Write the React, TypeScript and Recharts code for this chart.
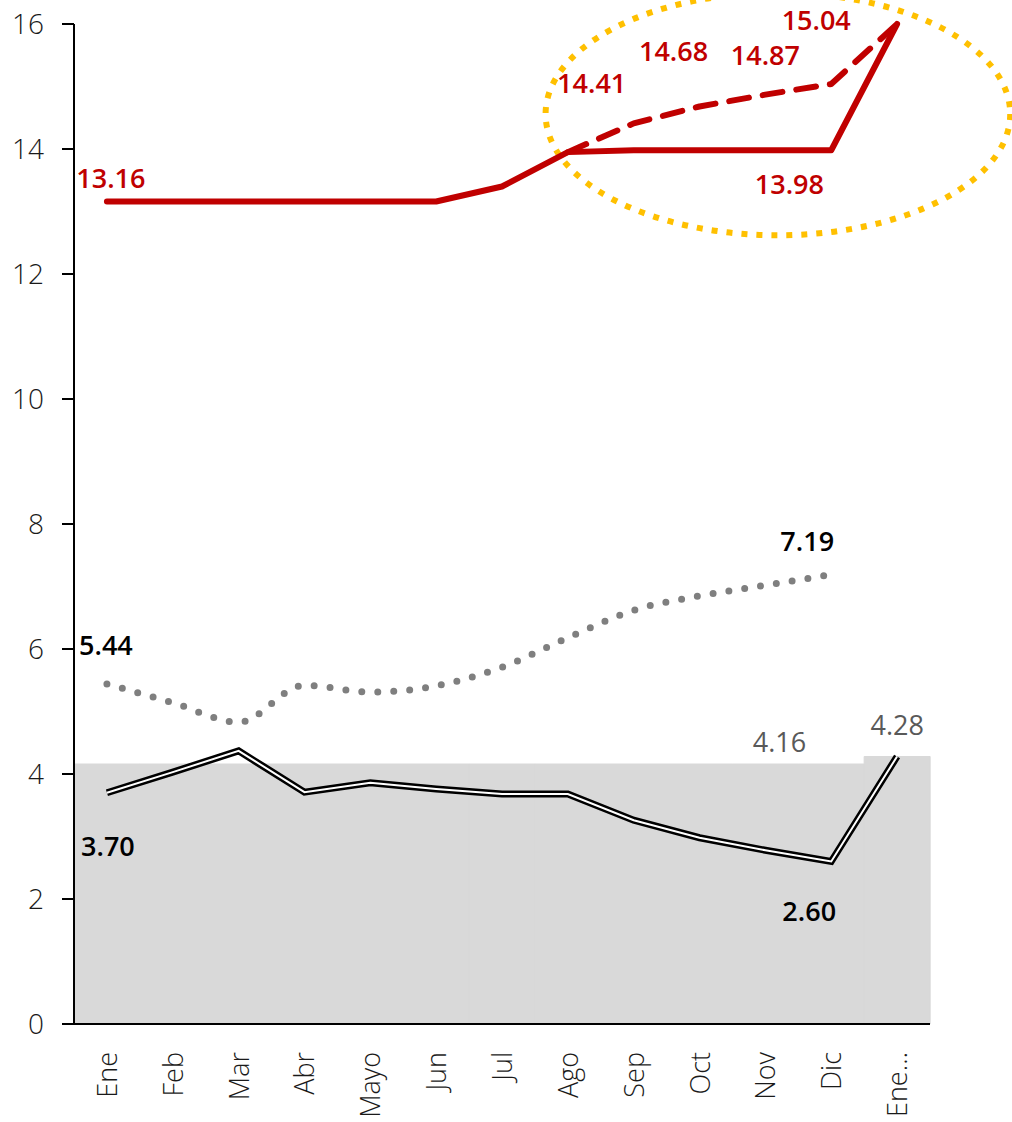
import React from "react";
import {
  ComposedChart,
  Bar,
  Line,
  XAxis,
  YAxis,
  ReferenceArea,
  LabelList,
} from "recharts";

const months = ["Ene", "Feb", "Mar", "Abr", "Mayo", "Jun", "Jul", "Ago", "Sep", "Oct", "Nov", "Dic", "Ene…"];
const band = [4.16, 4.16, 4.16, 4.16, 4.16, 4.16, 4.16, 4.16, 4.16, 4.16, 4.16, 4.16, 4.28];
const redSolid = [13.16, 13.16, 13.16, 13.16, 13.16, 13.16, 13.4, 13.95, 13.98, 13.98, 13.98, 13.98, 16.0];
const redDashed = [null, null, null, null, null, null, null, 13.95, 14.41, 14.68, 14.87, 15.04, 16.0];
const grayDotted = [5.44, 5.14, 4.83, 5.42, 5.31, 5.41, 5.71, 6.18, 6.62, 6.85, 7.02, 7.19, null];
const blackLine = [3.7, 4.03, 4.37, 3.71, 3.86, 3.76, 3.68, 3.68, 3.26, 2.98, 2.78, 2.6, 4.28];
const yTicks = [0, 2, 4, 6, 8, 10, 12, 14, 16];

const data = months.map((m, i) => ({
  m,
  band: band[i],
  redSolid: redSolid[i],
  redDashed: redDashed[i],
  grayDotted: grayDotted[i],
  blackLine: blackLine[i],
}));

const FONT = "'Open Sans', 'Noto Sans', sans-serif";
const RED = "#c00000";

// label offsets per index: [dx, dy]
function makeLabel(show: Record<number, [number, number]>, color: string, weight: number) {
  return (props: any) => {
    const { x, y, index, value, width } = props;
    const off = show[index];
    if (!off || value == null) return null;
    const cx = x + (width ? width / 2 : 0);
    return (
      <text
        x={cx + off[0]}
        y={y + off[1]}
        textAnchor="middle"
        fill={color}
        fontSize={27}
        fontWeight={weight}
        fontFamily={FONT}
      >
        {Number(value).toFixed(2)}
      </text>
    );
  };
}

const XTick = (props: any) => {
  const { x, y, payload } = props;
  return (
    <text
      transform={`translate(${x + 10},${y + 20}) rotate(-90)`}
      textAnchor="end"
      fill="#1a1a1a"
      fontSize={27}
      fontWeight={300}
      fontFamily={FONT}
    >
      {payload.value}
    </text>
  );
};

const Ellipse = (props: any) => {
  const { x, y, width, height } = props;
  return (
    <ellipse
      cx={x + width * 0.615}
      cy={y + height / 2}
      rx={width * 0.588}
      ry={height / 2}
      fill="none"
      stroke="#ffc000"
      strokeWidth={6}
      strokeDasharray="6 9"
    />
  );
};

export default function App() {
  return (
    <div style={{ width: 1012, height: 1122 }}>
      <style>{`body{margin:0}`}</style>
      <ComposedChart
        width={1012}
        height={1122}
        data={data}
        margin={{ top: 24, right: 82, bottom: 0, left: 0 }}
        barCategoryGap={0}
      >
        <XAxis
          dataKey="m"
          interval={0}
          tick={<XTick />}
          tickLine={false}
          height={98}
          axisLine={{ stroke: "#000", strokeWidth: 2 }}
        />
        <YAxis
          domain={[0, 16]}
          ticks={yTicks}
          width={74}
          interval={0}
          tickSize={12}
          tickLine={{ stroke: "#000", strokeWidth: 2 }}
          axisLine={{ stroke: "#000", strokeWidth: 2 }}
          tick={{ fill: "#1a1a1a", fontSize: 28, fontWeight: 300, fontFamily: FONT, dx: -16 }}
        />
        <Bar dataKey="band" fill="#d9d9d9" stroke="#d9d9d9" strokeWidth={1} isAnimationActive={false}>
          <LabelList dataKey="band" content={makeLabel({ 10: [14, -12], 12: [0, -22] }, "#595959", 400)} />
        </Bar>
        <ReferenceArea x1="Ago" x2="Ene…" y1={12.62} y2={16.5} ifOverflow="visible" shape={<Ellipse />} />
        <Line
          dataKey="blackLine"
          type="linear"
          stroke="#000"
          strokeWidth={7}
          dot={false}
          isAnimationActive={false}
        >
          <LabelList dataKey="blackLine" content={makeLabel({ 0: [1, 63], 11: [-22, 59] }, "#000", 600)} />
        </Line>
        <Line
          dataKey="blackLine"
          type="linear"
          stroke="#fff"
          strokeWidth={2}
          dot={false}
          isAnimationActive={false}
        />
        <Line
          dataKey="grayDotted"
          type="monotone"
          stroke="#7f7f7f"
          strokeWidth={7}
          strokeLinecap="round"
          strokeDasharray="0 16"
          dot={false}
          isAnimationActive={false}
        >
          <LabelList dataKey="grayDotted" content={makeLabel({ 0: [-1, -29], 11: [-24, -24] }, "#000", 600)} />
        </Line>
        <Line
          dataKey="redDashed"
          type="linear"
          stroke={RED}
          strokeWidth={6}
          strokeLinecap="round"
          strokeLinejoin="round"
          strokeDasharray="20 14"
          dot={false}
          connectNulls={false}
          isAnimationActive={false}
        >
          <LabelList
            dataKey="redDashed"
            content={makeLabel({ 8: [-42, -30], 9: [-26, -46], 10: [0, -30], 11: [-15, -54] }, RED, 600)}
          />
        </Line>
        <Line
          dataKey="redSolid"
          type="linear"
          stroke={RED}
          strokeWidth={6}
          strokeLinecap="round"
          strokeLinejoin="round"
          dot={false}
          isAnimationActive={false}
        >
          <LabelList dataKey="redSolid" content={makeLabel({ 0: [4, -14], 10: [24, 44] }, RED, 600)} />
        </Line>
      </ComposedChart>
    </div>
  );
}
